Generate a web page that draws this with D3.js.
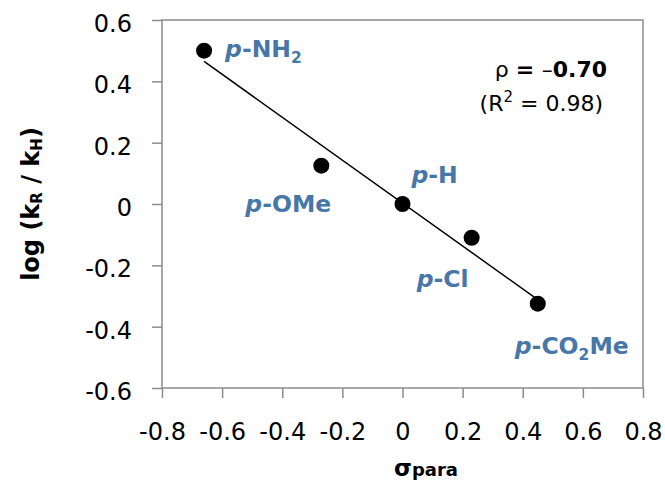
<!DOCTYPE html>
<html>
<head>
<meta charset="utf-8">
<script src="https://cdn.jsdelivr.net/npm/d3@7"></script>
<style>
  body { margin: 0; background: #fff; }
  svg text { font-family: "DejaVu Sans", sans-serif; }
</style>
</head>
<body>
<div id="chart"></div>
<script>
// para substituents, Hammett sigma and measured log(kR/kH)
const substituents = ["NH2", "OMe", "H", "Cl", "CO2Me"];
const sigmaPara = [-0.66, -0.27, 0, 0.23, 0.45];
const logRatio = [0.50, 0.125, 0, -0.11, -0.325];

const xTicks = [-0.8, -0.6, -0.4, -0.2, 0, 0.2, 0.4, 0.6, 0.8];
const xTickLabels = ["-0.8", "-0.6", "-0.4", "-0.2", "0", "0.2", "0.4", "0.6", "0.8"];
const yTicks = [0.6, 0.4, 0.2, 0, -0.2, -0.4, -0.6];
const yTickLabels = ["0.6", "0.4", "0.2", "0", "-0.2", "-0.4", "-0.6"];

const rhoValue = "0.70";
const r2Value = "0.98";

const width = 665, height = 482;
const margin = {left: 162, right: 22, top: 20, bottom: 94};
const labelColor = "#4776a8";
const frameColor = "#8c8c8c";

// where each substituent label sits relative to its point (px)
const labelOffset = [[21, 6], [-76, 46], [9, -21], [-55, 49], [-23, 50]];

const svg = d3.select("#chart").append("svg")
    .attr("width", width)
    .attr("height", height);

svg.append("rect").attr("width", width).attr("height", height).attr("fill", "#fff");

const x = d3.scaleLinear().domain([-0.8, 0.8]).range([margin.left, width - margin.right]);
const y = d3.scaleLinear().domain([-0.6, 0.6]).range([height - margin.bottom, margin.top]);

// axes
const xAxis = svg.append("g")
    .attr("transform", "translate(0," + y(-0.6) + ")")
    .call(d3.axisBottom(x).tickValues(xTicks).tickFormat((d, i) => xTickLabels[i]).tickSize(10).tickSizeOuter(0));
xAxis.select(".domain").remove();
xAxis.selectAll("line").attr("stroke", frameColor).attr("stroke-width", 1.5);
xAxis.selectAll("text")
    .attr("y", 52).attr("dy", 0)
    .attr("font-size", 24).attr("fill", "#000")
    .style("font-family", "'DejaVu Sans', sans-serif");

const yAxis = svg.append("g")
    .attr("transform", "translate(" + x(-0.8) + ",0)")
    .call(d3.axisLeft(y).tickValues(yTicks).tickFormat((d, i) => yTickLabels[i]).tickSize(10).tickPadding(20).tickSizeOuter(0));
yAxis.select(".domain").remove();
yAxis.selectAll("line").attr("stroke", frameColor).attr("stroke-width", 1.5);
yAxis.selectAll("text")
    .attr("dy", 11.5)
    .attr("font-size", 24).attr("fill", "#000")
    .style("font-family", "'DejaVu Sans', sans-serif");

// plot frame
svg.append("rect")
    .attr("x", x(-0.8)).attr("y", y(0.6))
    .attr("width", x(0.8) - x(-0.8))
    .attr("height", y(-0.6) - y(0.6))
    .attr("fill", "none")
    .attr("stroke", frameColor)
    .attr("stroke-width", 1.5);

// least squares trendline over the data range
const mx = d3.mean(sigmaPara), my = d3.mean(logRatio);
const slope = d3.sum(sigmaPara, (v, i) => (v - mx) * (logRatio[i] - my)) / d3.sum(sigmaPara, v => (v - mx) * (v - mx));
const intercept = my - slope * mx;
const [x0, x1] = d3.extent(sigmaPara);

svg.append("line")
    .attr("x1", x(x0)).attr("y1", y(intercept + slope * x0))
    .attr("x2", x(x1)).attr("y2", y(intercept + slope * x1))
    .attr("stroke", "#000")
    .attr("stroke-width", 1.5);

// points
svg.append("g").selectAll("circle")
    .data(sigmaPara)
    .join("circle")
    .attr("cx", d => x(d))
    .attr("cy", (d, i) => y(logRatio[i]))
    .attr("r", 8)
    .attr("fill", "#000");

// writes "CO2Me" style text with digits as subscripts
function addFormula(text, str, subSize, shift) {
    let down = 0;
    str.match(/\d+|\D+/g).forEach(part => {
        const isSub = /\d/.test(part);
        const ts = text.append("tspan").text(part).attr("dy", (isSub ? shift : 0) - down);
        if (isSub) ts.attr("font-size", subSize);
        down = isSub ? shift : 0;
    });
}

substituents.forEach((name, i) => {
    const t = svg.append("text")
        .attr("x", x(sigmaPara[i]) + labelOffset[i][0])
        .attr("y", y(logRatio[i]) + labelOffset[i][1])
        .attr("font-size", 23.5)
        .attr("font-weight", "bold")
        .attr("fill", labelColor);
    t.append("tspan").attr("font-style", "italic").text("p");
    t.append("tspan").text("-");
    addFormula(t, name, 15.5, 6);
});

// rho annotation
const rho = svg.append("text")
    .attr("x", 607).attr("y", 77)
    .attr("text-anchor", "end")
    .attr("font-size", 22)
    .attr("fill", "#000");
rho.append("tspan").text("ρ ");
rho.append("tspan").attr("font-weight", "bold").text("= ");
rho.append("tspan").text("–");
rho.append("tspan").attr("font-weight", "bold").text(rhoValue);

const r2 = svg.append("text")
    .attr("x", 603).attr("y", 111)
    .attr("text-anchor", "end")
    .attr("font-size", 22)
    .attr("fill", "#000");
r2.append("tspan").text("(R");
r2.append("tspan").attr("font-size", 15).attr("dy", -9).text("2");
r2.append("tspan").attr("dy", 9).text(" = " + r2Value + ")");

// axis titles
const yTitle = svg.append("text")
    .attr("transform", "translate(39," + y(0) + ") rotate(-90)")
    .attr("text-anchor", "middle")
    .attr("font-size", 24)
    .attr("font-weight", "bold")
    .attr("fill", "#000");
yTitle.append("tspan").text("log (k");
yTitle.append("tspan").attr("font-size", 15).attr("dy", 3).text("R");
yTitle.append("tspan").attr("dy", -3).text(" / k");
yTitle.append("tspan").attr("font-size", 15).attr("dy", 3).text("H");
yTitle.append("tspan").attr("dy", -3).text(")");

const xTitle = svg.append("text")
    .attr("x", 394).attr("y", 476)
    .attr("font-weight", "bold")
    .attr("fill", "#000");
xTitle.append("tspan").attr("font-size", 23).text("σ");
xTitle.append("tspan").attr("font-size", 18).text("para");
</script>
</body>
</html>
